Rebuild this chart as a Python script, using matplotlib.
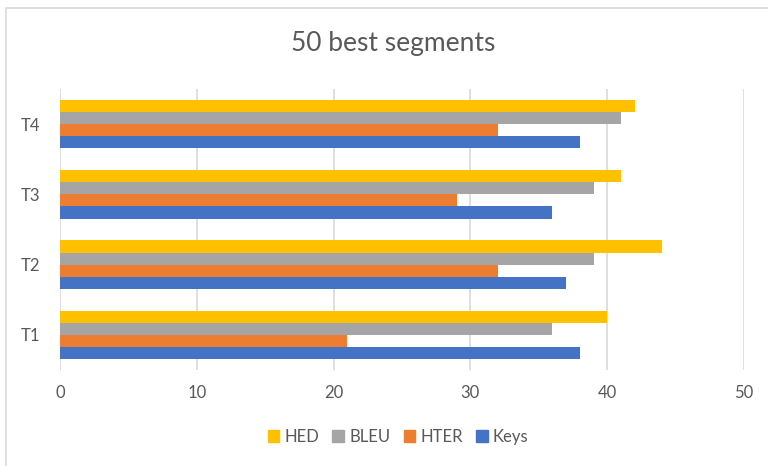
import matplotlib.pyplot as plt
import numpy as np
from matplotlib.patches import Rectangle, Patch

plt.rcParams['font.family'] = ['Lato', 'DejaVu Sans']

# scores per test set, series listed bottom-to-top within each group
tests = ['T1', 'T2', 'T3', 'T4']
keys = [38, 37, 36, 38]
hter = [21, 32, 29, 32]
bleu = [36, 39, 39, 41]
hed = [40, 44, 41, 42]

series = [('Keys', keys, '#4472C4'),
          ('HTER', hter, '#ED7D31'),
          ('BLEU', bleu, '#A5A5A5'),
          ('HED', hed, '#FFC000')]

fig = plt.figure(figsize=(7.68, 4.66), dpi=100)
ax = fig.add_axes([60/768, 1 - 370/466, 684/768, 281/466])

y = np.arange(len(tests))
h = 0.172
for i, (name, vals, col) in enumerate(series):
    ax.barh(y + (i - 1.5) * h, vals, h, color=col, label=name, zorder=3)

ax.set_xlim(0, 50)
ax.set_ylim(-0.5, len(tests) - 0.5)
ax.set_xticks(range(0, 51, 10))
ax.set_yticks(y)
ax.set_yticklabels(tests)
ax.grid(axis='x', color='#D9D9D9', linewidth=1.2, zorder=0)
ax.tick_params(length=0, colors='#595959', labelsize=12)
ax.tick_params(axis='x', pad=11)
ax.tick_params(axis='y', pad=14)
for s in ax.spines.values():
    s.set_visible(False)

fig.text(0.512, 1 - 44/466, '50 best segments', ha='center', va='center',
         fontsize=19, color='#595959')

handles = [Patch(color=c, label=n) for n, _, c in series[::-1]]
fig.legend(handles=handles, loc='center', bbox_to_anchor=(398/768, 1 - 437/466),
           ncol=4, frameon=False, fontsize=12, handlelength=0.7, handleheight=0.7,
           handletextpad=0.3, columnspacing=0.8, labelcolor='#595959')

# chart area border
fig.patches.append(Rectangle((6/768, -0.1), 1.0, 1 - 8/466 + 0.1,
                             transform=fig.transFigure, fill=False,
                             edgecolor='#D9D9D9', linewidth=1.2))

fig.savefig('out.png', dpi=100)
